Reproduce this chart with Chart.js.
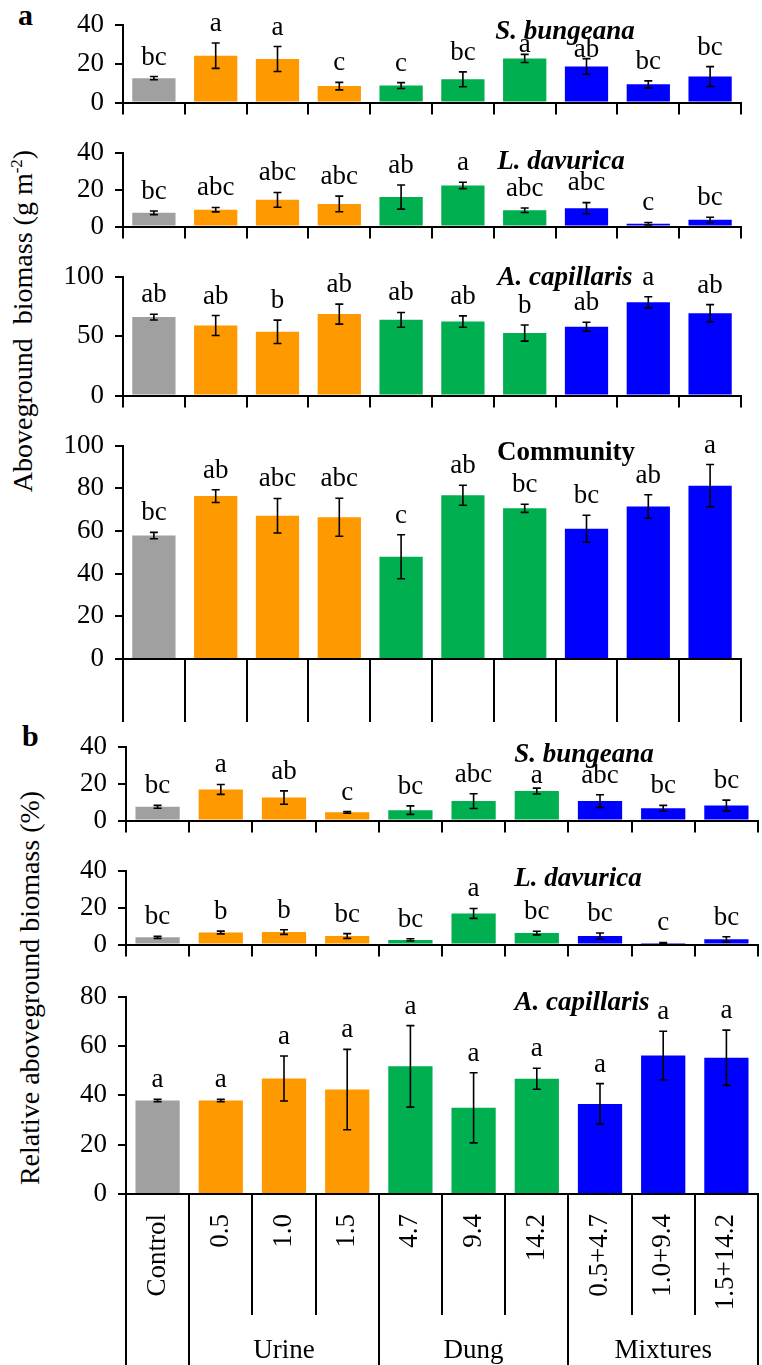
<!DOCTYPE html>
<html>
<head>
<meta charset="utf-8">
<script src="https://cdn.jsdelivr.net/npm/chart.js@4.4.1/dist/chart.umd.min.js"></script>
<style>
  html, body { margin: 0; padding: 0; background: #fff; }
  #fig { position: relative; width: 762px; height: 1365px; overflow: hidden; background: #fff; }
  #fig canvas { position: absolute; left: 0; }
  .panel-tag { position: absolute; font: bold 30px "Liberation Serif", "Times New Roman", serif; line-height: 30px; color: #000; }
  .ytitle { position: absolute; white-space: nowrap; font: 28px "Liberation Serif", "Times New Roman", serif; line-height: 30px; color: #000;
            transform: translate(-50%, -50%) rotate(-90deg); }
  .ytitle sup { font-size: 17px; vertical-align: 0; position: relative; top: -10px; }
</style>
</head>
<body>
<div id="fig">
  <div class="panel-tag" style="left:18px; top:0px;">a</div>
  <div class="panel-tag" style="left:22px; top:721px;">b</div>
  <div class="ytitle" style="left:25px; top:321px;">Aboveground&nbsp; biomass (g m<sup>-2</sup>)</div>
  <div class="ytitle" style="left:30px; top:988px;">Relative aboveground biomass (%)</div>
</div>
<script>
// Treatments and their groups
const treatments = ['Control', '0.5', '1.0', '1.5', '4.7', '9.4', '14.2', '0.5+4.7', '1.0+9.4', '1.5+14.2'];
const groupNames = ['Urine', 'Dung', 'Mixtures'];
const groupSpans = [[1, 3], [4, 6], [7, 9]];
const treatmentColors = ['#A0A0A0', '#FF9900', '#FF9900', '#FF9900', '#00B050', '#00B050', '#00B050', '#0000FF', '#0000FF', '#0000FF'];

// (a) Aboveground biomass, g m-2
const sbBiomass = [12.5, 24.0, 22.3, 8.4, 8.7, 11.9, 22.6, 18.5, 9.3, 13.3];
const sbBiomassSE = [0.8, 6.5, 6.4, 1.9, 1.5, 3.8, 2.1, 4.0, 1.8, 5.1];
const sbBiomassLetters = ['bc', 'a', 'a', 'c', 'c', 'bc', 'a', 'ab', 'bc', 'bc'];

const ldBiomass = [7.4, 9.1, 14.4, 12.2, 15.9, 22.2, 8.8, 9.9, 1.5, 3.6];
const ldBiomassSE = [1.0, 1.2, 4.0, 4.2, 6.5, 1.7, 1.2, 3.0, 0.7, 1.4];
const ldBiomassLetters = ['bc', 'abc', 'abc', 'abc', 'ab', 'a', 'abc', 'abc', 'c', 'bc'];

const acBiomass = [65.9, 58.8, 53.5, 68.4, 63.6, 62.1, 52.5, 57.8, 78.3, 69.2];
const acBiomassSE = [2.4, 8.4, 9.8, 8.4, 6.2, 4.8, 6.8, 3.8, 4.7, 7.2];
const acBiomassLetters = ['ab', 'ab', 'b', 'ab', 'ab', 'ab', 'b', 'ab', 'a', 'ab'];

const commBiomass = [57.8, 76.3, 67.1, 66.4, 47.9, 76.7, 70.6, 61.0, 71.4, 81.2];
const commBiomassSE = [1.5, 3.0, 8.1, 8.9, 10.3, 4.7, 1.9, 6.3, 5.5, 9.9];
const commBiomassLetters = ['bc', 'ab', 'abc', 'abc', 'c', 'ab', 'bc', 'bc', 'ab', 'a'];

// (b) Relative aboveground biomass, %
const sbRelative = [7.4, 16.8, 12.4, 4.4, 5.6, 10.5, 15.9, 10.5, 6.6, 8.1];
const sbRelativeSE = [0.8, 2.7, 3.6, 0.45, 2.3, 4.0, 1.6, 3.4, 1.6, 2.9];
const sbRelativeLetters = ['bc', 'a', 'ab', 'c', 'bc', 'abc', 'a', 'abc', 'bc', 'bc'];

const ldRelative = [3.9, 6.5, 6.7, 4.6, 2.5, 16.8, 6.2, 4.6, 0.8, 2.8];
const ldRelativeSE = [0.6, 0.75, 1.25, 1.3, 0.6, 2.7, 1.0, 1.6, 0.3, 1.4];
const ldRelativeLetters = ['bc', 'b', 'b', 'bc', 'bc', 'a', 'bc', 'bc', 'c', 'bc'];

const acRelative = [37.9, 37.9, 46.8, 42.3, 51.7, 34.9, 46.7, 36.5, 56.1, 55.2];
const acRelativeSE = [0.5, 0.5, 9.1, 16.3, 16.5, 14.2, 4.25, 8.2, 9.8, 11.2];
const acRelativeLetters = ['a', 'a', 'a', 'a', 'a', 'a', 'a', 'a', 'a', 'a'];

const SERIF = '"Liberation Serif", "Times New Roman", serif';
const fig = document.getElementById('fig');

function makePanel(p) {
  const h = p.canvasBottom - p.canvasTop;
  const cv = document.createElement('canvas');
  cv.width = 762; cv.height = h;
  cv.style.top = p.canvasTop + 'px';
  cv.style.width = '762px'; cv.style.height = h + 'px';
  fig.appendChild(cv);

  // error bars, significance letters, species title, treatment table
  const notes = {
    id: 'barNotes',
    afterDatasetsDraw(chart) {
      const ctx = chart.ctx;
      const ys = chart.scales.y;
      const xs = chart.scales.x;
      const bars = chart.getDatasetMeta(0).data;
      ctx.save();
      ctx.strokeStyle = '#000';
      ctx.fillStyle = '#000';
      ctx.textAlign = 'center';
      ctx.textBaseline = 'alphabetic';

      // species title
      const titleBase = chart.chartArea.top + p.titleDy;
      ctx.font = (p.italic ? 'italic ' : '') + 'bold 27px ' + SERIF;
      const titleHalf = ctx.measureText(p.title).width / 2;
      ctx.fillText(p.title, p.titleX, titleBase);

      ctx.lineWidth = 1.6;
      ctx.font = '27px ' + SERIF;
      bars.forEach((bar, i) => {
        const hi = ys.getPixelForValue(p.mean[i] + p.se[i]);
        const lo = ys.getPixelForValue(Math.max(0, p.mean[i] - p.se[i]));
        ctx.beginPath();
        ctx.moveTo(bar.x, hi); ctx.lineTo(bar.x, lo);
        ctx.moveTo(bar.x - 4, hi); ctx.lineTo(bar.x + 4, hi);
        ctx.moveTo(bar.x - 4, lo); ctx.lineTo(bar.x + 4, lo);
        ctx.stroke();
        // letters sit above the error bar, tucked under the title when they would touch it
        const lw = ctx.measureText(p.letters[i]).width / 2;
        let base = hi - 12;
        const underTitle = bar.x + lw > p.titleX - titleHalf - 3 && bar.x - lw < p.titleX + titleHalf + 3;
        if (underTitle && base - 18 < titleBase + 5) base = Math.min(hi - 2, titleBase + 21);
        ctx.fillText(p.letters[i], bar.x, base);
      });

      if (p.labelled) {
        const area = chart.chartArea;
        const step = (area.right - area.left) / treatments.length;
        const bottom = chart.height;
        ctx.lineWidth = 2;
        ctx.beginPath();
        for (let k = 0; k <= treatments.length; k++) {
          const x = Math.round(area.left + k * step);
          const major = [0, 1, 4, 7, 10].includes(k);
          ctx.moveTo(x, area.bottom);
          ctx.lineTo(x, major ? bottom : area.bottom + p.minorLen);
        }
        ctx.stroke();
        ctx.font = '27px ' + SERIF;
        treatments.forEach((t, i) => {
          const x = xs.getPixelForValue(i);
          ctx.save();
          ctx.translate(x, area.bottom + 20);
          ctx.rotate(-Math.PI / 2);
          ctx.textAlign = 'right';
          ctx.textBaseline = 'middle';
          ctx.fillText(t, 0, 0);
          ctx.restore();
        });
        ctx.textAlign = 'center';
        ctx.textBaseline = 'alphabetic';
        groupNames.forEach((g, j) => {
          const x = (xs.getPixelForValue(groupSpans[j][0]) + xs.getPixelForValue(groupSpans[j][1])) / 2;
          ctx.fillText(g, x, bottom - 7);
        });
      }
      ctx.restore();
    }
  };

  new Chart(cv, {
    type: 'bar',
    data: {
      labels: treatments,
      datasets: [{
        data: p.mean,
        backgroundColor: treatmentColors,
        borderWidth: 0,
        barPercentage: 0.7,
        categoryPercentage: 1.0
      }]
    },
    options: {
      responsive: false,
      animation: false,
      devicePixelRatio: 1,
      layout: { padding: { top: p.plotTop - p.canvasTop, bottom: 0, left: 0, right: 762 - p.right } },
      plugins: { legend: { display: false }, tooltip: { enabled: false } },
      scales: {
        x: {
          offset: true,
          ticks: { display: false },
          grid: p.labelled
            ? { display: false, drawTicks: false }
            : { display: true, drawOnChartArea: false, offset: true, drawTicks: true,
                tickLength: p.tickLen, color: '#000', lineWidth: 2 },
          border: { display: true, color: '#000', width: 2 },
          afterFit(scale) { scale.height = p.axisBelow; }
        },
        y: {
          min: 0, max: p.max,
          ticks: { stepSize: p.step, color: '#000', padding: 11,
                   font: { family: SERIF, size: 27, lineHeight: 1 } },
          grid: { display: true, drawOnChartArea: false, drawTicks: true, tickLength: 8, color: '#000', lineWidth: 2 },
          border: { display: true, color: '#000', width: 2 },
          afterFit(scale) { scale.width = p.left; }
        }
      }
    },
    plugins: [notes]
  });
}

// panel a
makePanel({ canvasTop: 0,   plotTop: 21,  canvasBottom: 127, axisBelow: 12, tickLen: 12, left: 123, right: 741,
            max: 40, step: 20, mean: sbBiomass, se: sbBiomassSE, letters: sbBiomassLetters,
            title: 'S. bungeana', italic: true, titleX: 565, titleDy: 14 });
makePanel({ canvasTop: 128, plotTop: 144, canvasBottom: 251, axisBelow: 12, tickLen: 12, left: 123, right: 741,
            max: 40, step: 20, mean: ldBiomass, se: ldBiomassSE, letters: ldBiomassLetters,
            title: 'L. davurica', italic: true, titleX: 561, titleDy: 16 });
makePanel({ canvasTop: 252, plotTop: 275, canvasBottom: 420, axisBelow: 12, tickLen: 12, left: 123, right: 741,
            max: 100, step: 50, mean: acBiomass, se: acBiomassSE, letters: acBiomassLetters,
            title: 'A. capillaris', italic: true, titleX: 565, titleDy: 8 });
makePanel({ canvasTop: 421, plotTop: 441, canvasBottom: 722, axisBelow: 63, tickLen: 63, left: 123, right: 741,
            max: 100, step: 20, mean: commBiomass, se: commBiomassSE, letters: commBiomassLetters,
            title: 'Community', italic: false, titleX: 566, titleDy: 14 });

// panel b
makePanel({ canvasTop: 722, plotTop: 738, canvasBottom: 845, axisBelow: 12, tickLen: 12, left: 126, right: 758,
            max: 40, step: 20, mean: sbRelative, se: sbRelativeSE, letters: sbRelativeLetters,
            title: 'S. bungeana', italic: true, titleX: 584, titleDy: 15 });
makePanel({ canvasTop: 846, plotTop: 862, canvasBottom: 969, axisBelow: 12, tickLen: 12, left: 126, right: 758,
            max: 40, step: 20, mean: ldRelative, se: ldRelativeSE, letters: ldRelativeLetters,
            title: 'L. davurica', italic: true, titleX: 578, titleDy: 15 });
makePanel({ canvasTop: 972, plotTop: 992, canvasBottom: 1365, axisBelow: 171, tickLen: 0, left: 126, right: 758,
            max: 80, step: 20, mean: acRelative, se: acRelativeSE, letters: acRelativeLetters,
            title: 'A. capillaris', italic: true, titleX: 582, titleDy: 13, labelled: true, minorLen: 121 });
</script>
</body>
</html>
